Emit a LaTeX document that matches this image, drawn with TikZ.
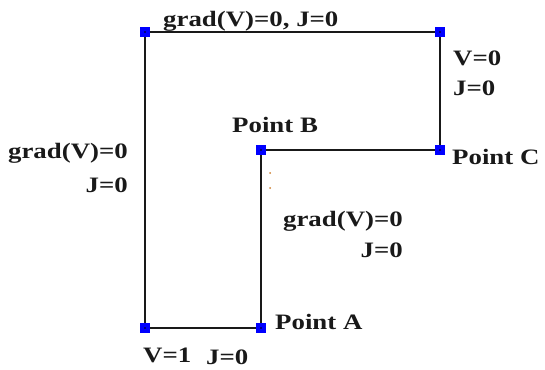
\documentclass[tikz,border=0pt]{standalone}
\usepackage{fontspec}
\setmainfont{Liberation Serif}
\newcommand{\lbltext}[1]{\scalebox{1.22}[1]{\bfseries #1}}
\begin{document}
\begin{tikzpicture}[x=1pt,y=-1pt,
  wire/.style={draw=black!90, line width=2pt},
  corner/.style={fill=blue, minimum size=10.5pt, inner sep=0pt, draw=none},
  lbl/.style={anchor=base west, inner sep=0pt, text=black!90, font=\fontsize{22}{22}\selectfont},
  lble/.style={anchor=base east, inner sep=0pt, text=black!90, font=\fontsize{22}{22}\selectfont}]
\useasboundingbox (0,0) rectangle (545,369);
\coordinate (p1) at (145,32);
\coordinate (p2) at (440,32);
\coordinate (p3) at (440,150);
\coordinate (p4) at (261,150);
\coordinate (p5) at (261,328);
\coordinate (p6) at (145,328);
\draw[wire] (p1) -- (p2) -- (p3) -- (p4) -- (p5) -- (p6) -- cycle;
\foreach \p in {p1,p2,p3,p4,p5,p6}{
  \node[corner] at (\p) {};
  \fill[black] (\p) circle (0.8pt);
}
\fill[brown!80!orange] (270,173) circle (1pt);
\fill[brown!80!orange] (270,188) circle (1pt);
\node[lbl] (top) at (163,27) {\lbltext{grad(V)=0, J=0}};
\node[lbl] (v0) at (453,65) {\lbltext{V=0}};
\node[lbl] (j0r) at (453,95) {\lbltext{J=0}};
\node[lbl] (pc) at (452,164) {\lbltext{Point C}};
\node[lbl] (pb) at (232,132) {\lbltext{Point B}};
\node[lble] (lg) at (128,158) {\lbltext{grad(V)=0}};
\node[lble] (lj) at (128,192) {\lbltext{J=0}};
\node[lble] (mg) at (403,226) {\lbltext{grad(V)=0}};
\node[lble] (mj) at (403,257) {\lbltext{J=0}};
\node[lbl] (pa) at (275,329) {\lbltext{Point A}};
\node[lbl] (v1) at (143,362) {\lbltext{V=1}};
\node[lbl] (bj) at (206,364) {\lbltext{J=0}};
\end{tikzpicture}
\end{document}
